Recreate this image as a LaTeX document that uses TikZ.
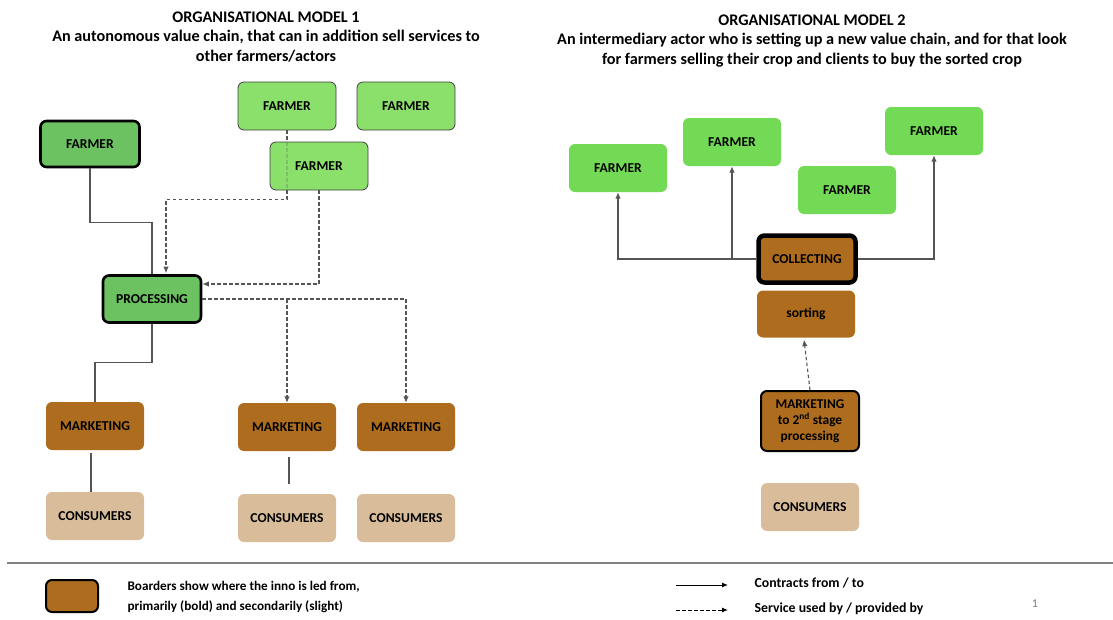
\documentclass[tikz,border=0pt]{standalone}
\usepackage{fontspec}
\setmainfont{Carlito}
\usepackage{tikz}
\usetikzlibrary{calc,arrows.meta}

\definecolor{greenA}{RGB}{108,193,96}
\definecolor{greenB}{RGB}{139,224,107}
\definecolor{greenC}{RGB}{114,218,85}
\definecolor{brownbox}{RGB}{174,109,30}
\definecolor{tanbox}{RGB}{217,189,155}
\definecolor{linegray}{RGB}{85,85,85}

\begin{document}
\begin{tikzpicture}[x=1pt, y=-1pt,
    box/.style={rectangle, rounded corners=6pt, minimum width=98pt, minimum height=48pt,
        inner sep=2pt, align=center, font=\fontsize{13.6}{15}\selectfont\bfseries},
    thinbox/.style={box, draw=black!75, line width=0.8pt},
    boldbox/.style={box, draw=black, line width=2.6pt},
    contract/.style={draw=linegray, line width=1.1pt},
    service/.style={draw=linegray, line width=1.1pt, dash pattern=on 3.5pt off 2.5pt},
    tip/.style={-{Latex[length=6.5pt,width=5.5pt]}},
    title/.style={align=center, font=\fontsize{16.2}{19.6}\selectfont\bfseries}]
    \useasboundingbox (0,0) rectangle (1113,619);

    \node[title, anchor=north] (t1) at (266,8) {ORGANISATIONAL MODEL 1\\An autonomous value chain, that can in addition sell services to\\other farmers/actors};
    \node[title, anchor=north] (t2) at (812,11) {ORGANISATIONAL MODEL 2\\An intermediary actor who is setting up a new value chain, and for that look\\for farmers selling their crop and clients to buy the sorted crop};

    \node[boldbox, fill=greenA, minimum width=99pt, minimum height=46pt] (fA) at (90,144) {FARMER};
    \node[thinbox, fill=greenB] (fB) at (287,106) {FARMER};
    \node[thinbox, fill=greenB] (fC) at (406,106) {FARMER};
    \node[boldbox, fill=greenA, minimum width=98pt, minimum height=47pt] (proc) at (152,299) {PROCESSING};
    \draw[service, tip] (fB.south) -- ++(0,69) -| ($(proc.north)+(14,-1)$);
    \node[thinbox, fill=greenB] (fD) at (319,166) {FARMER};
    \draw[service, draw opacity=0.25] (fB.south) -- (fB.south |- fD.south);
    \node[box, fill=brownbox] (mk1) at (95,426) {MARKETING};
    \node[box, fill=brownbox] (mk2) at (287,427) {MARKETING};
    \node[box, fill=brownbox] (mk3) at (406,427) {MARKETING};
    \node[box, fill=tanbox] (cs1) at (95,516) {CONSUMERS};
    \node[box, fill=tanbox] (cs2) at (287,518) {CONSUMERS};
    \node[box, fill=tanbox] (cs3) at (406,518) {CONSUMERS};

    \draw[contract] (fA.south) -- ++(0,54) -| (proc.north);
    \draw[service, tip] (fD.south) |- ($(proc.east)+(0,-15)$);
    \draw[service, tip] (proc.east) -| (mk3.north);
    \draw[service, tip] (proc.east -| mk2.north) -- (mk2.north);
    \draw[contract] (proc.south) -- ++(0,39) -| (mk1.north);
    \draw[contract] ($(mk1.south)+(-4,3)$) -- ($(cs1.north)+(-4,0)$);
    \draw[contract] ($(mk2.south)+(2,6)$) -- ($(cs2.north)+(2,-10)$);

    \node[box, fill=greenC] (fR1) at (618,168) {FARMER};
    \node[box, fill=greenC] (fR2) at (732,142) {FARMER};
    \node[box, fill=greenC] (fR3) at (847,190) {FARMER};
    \node[box, fill=greenC] (fR4) at (934,131) {FARMER};
    \node[box, draw=black, line width=4.5pt, fill=brownbox, minimum width=97pt, minimum height=47pt] (col) at (807,259) {COLLECTING};
    \node[box, fill=brownbox, minimum height=47pt] (sort) at (806,314) {sorting};
    \node[box, draw=black, line width=2pt, fill=brownbox, minimum width=98pt, minimum height=60pt, font=\fontsize{13.4}{16}\selectfont\bfseries] (mk2s) at (810,421) {MARKETING\\to 2\textsuperscript{nd} stage\\processing};
    \node[box, fill=tanbox] (csR) at (810,507) {CONSUMERS};

    \draw[contract, tip] (col.west) -| (fR1.south);
    \draw[contract, tip] (col.west -| fR2.south) -- (fR2.south);
    \draw[contract, tip] (col.east) -| (fR4.south);
    \draw[service, tip] (mk2s.north) -- ($(sort.south)+(-2,2)$);

    \draw[gray, line width=1.6pt] (7,563) -- (1113,563);
    \node[box, draw=black, line width=2pt, fill=brownbox, minimum width=52pt, minimum height=32pt] (leg) at (72,596) {};
    \node[anchor=west, align=left, font=\fontsize{13.2}{20}\selectfont\bfseries] (legtxt) at (124,597) {Boarders show where the inno is led from,\\primarily (bold) and secondarily (slight)};
    \coordinate (c1) at (676,585);
    \coordinate (c2) at (728,585);
    \coordinate (s1) at (676,610);
    \coordinate (s2) at (728,610);
    \draw[line width=1pt, -{Latex[length=6pt,width=5pt]}] (c1) -- (c2);
    \draw[line width=1pt, dash pattern=on 3.5pt off 2.5pt, -{Latex[length=6pt,width=5pt]}] (s1) -- (s2);
    \node[anchor=west, font=\fontsize{13.8}{15}\selectfont\bfseries] (ltc) at (751,583) {Contracts from / to};
    \node[anchor=west, font=\fontsize{13.8}{15}\selectfont\bfseries] (lts) at (751,609) {Service used by / provided by};
    \node[text=gray, font=\fontsize{12}{13}\selectfont] (pg) at (1035,604) {1};
\end{tikzpicture}
\end{document}
